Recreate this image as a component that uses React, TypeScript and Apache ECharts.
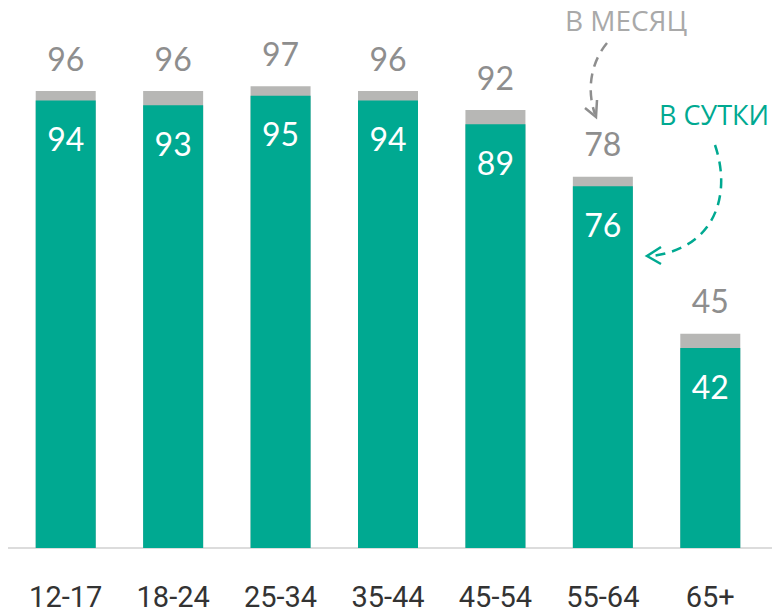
import React, { useEffect, useRef } from "react";
import * as echarts from "echarts";

const categories = ["12-17", "18-24", "25-34", "35-44", "45-54", "55-64", "65+"];
const monthValues = [96, 96, 97, 96, 92, 78, 45];
const dayValues = [94, 93, 95, 94, 89, 76, 42];
const monthLabel = "В МЕСЯЦ";
const dayLabel = "В СУТКИ";

const GREEN = "#00a991";
const GRAY_BAR = "#b7b7b5";
const GRAY_TEXT = "#8e8e8e";
const VAL_FONT = "Lato, 'Open Sans', sans-serif";

export default function App() {
  const ref = useRef<HTMLDivElement>(null);
  useEffect(() => {
    document.body.style.margin = "0";
    if (!ref.current) return;
    const chart = echarts.init(ref.current, undefined, { renderer: "svg" });
    chart.setOption({
      animation: false,
      grid: { left: 12, right: 8, top: 72, bottom: 67 },
      xAxis: {
        type: "category",
        data: categories,
        axisLine: { lineStyle: { color: "#dcdcdc", width: 2 } },
        axisTick: { show: false },
        axisLabel: {
          interval: 0,
          margin: 34,
          fontSize: 29,
          color: "#333333",
          fontFamily: "Roboto, sans-serif",
        },
      },
      yAxis: {
        type: "value",
        min: 0,
        max: 100,
        show: false,
        splitLine: { show: false },
      },
      series: [
        {
          type: "bar",
          data: monthValues,
          barWidth: 60,
          barGap: "-100%",
          itemStyle: { color: GRAY_BAR },
          label: {
            show: true,
            position: "top",
            distance: 17,
            fontSize: 32,
            fontWeight: "normal",
            color: GRAY_TEXT,
            fontFamily: VAL_FONT,
          },
        },
        {
          type: "bar",
          data: dayValues,
          barWidth: 60,
          itemStyle: { color: GREEN },
          label: {
            show: true,
            position: "insideTop",
            distance: 22,
            fontSize: 32,
            fontWeight: "normal",
            color: "#ffffff",
            fontFamily: VAL_FONT,
          },
        },
      ],
      graphic: [
        {
          type: "line",
          shape: { x1: 8, y1: 548, x2: 772, y2: 548 },
          style: { stroke: "#dcdcdc", lineWidth: 2 },
          z: -1,
        },
        {
          type: "text",
          x: 626,
          y: 20,
          style: {
            text: monthLabel,
            fill: "#a9a9a9",
            fontSize: 28,
            fontFamily: "'Open Sans', sans-serif",
            align: "center",
            verticalAlign: "middle",
          },
        },
        {
          type: "text",
          x: 714,
          y: 114,
          style: {
            text: dayLabel,
            fill: GREEN,
            fontSize: 27,
            fontFamily: "'Open Sans', sans-serif",
            align: "center",
            verticalAlign: "middle",
          },
        },
        {
          type: "bezierCurve",
          shape: { x1: 607, y1: 43, cpx1: 588, cpy1: 66, cpx2: 588, cpy2: 95, x2: 595, y2: 114 },
          style: { stroke: "#8e8e8e", lineWidth: 2.5, lineDash: [10, 7], fill: null },
        },
        {
          type: "polyline",
          shape: { points: [[585, 108], [596, 117], [597, 100]] },
          style: { stroke: "#8e8e8e", lineWidth: 2.5, fill: null },
        },
        {
          type: "bezierCurve",
          shape: { x1: 715, y1: 145, cpx1: 732, cpy1: 195, cpx2: 715, cpy2: 248, x2: 652, y2: 256 },
          style: { stroke: GREEN, lineWidth: 2.5, lineDash: [10, 7], fill: null },
        },
        {
          type: "polyline",
          shape: { points: [[661, 247], [647, 256], [661, 264]] },
          style: { stroke: GREEN, lineWidth: 2.5, fill: null },
        },
      ],
    });
    return () => chart.dispose();
  }, []);
  return <div ref={ref} style={{ width: 772, height: 615 }} />;
}
